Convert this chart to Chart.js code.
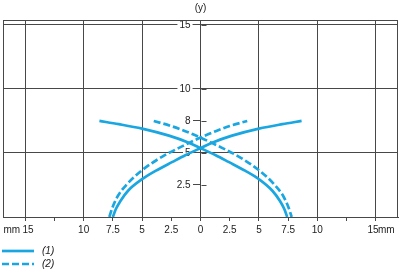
<!DOCTYPE html>
<html>
<head>
<meta charset="utf-8">
<script src="https://cdn.jsdelivr.net/npm/chart.js@4/dist/chart.umd.min.js"></script>
<style>
  html, body { margin: 0; padding: 0; background: #fff; }
</style>
</head>
<body>
<canvas id="lineChart" width="401" height="274"></canvas>
<script>
// curve (1), solid: branch falling to the right and branch rising to the right
var c1FallX = [-8.65, -7.0, -5.0, -2.7, -1.0, 0, 1.3, 2.4, 3.85, 5.0, 6.15, 6.8, 7.18, 7.42];
var c1FallY = [7.5, 7.25, 6.9, 6.35, 5.8, 5.38, 4.82, 4.3, 3.6, 2.95, 2.05, 1.25, 0.6, 0];
var c1RiseX = [-7.5, -7.25, -6.85, -6.2, -5.0, -3.85, -2.4, -1.3, 0, 1.0, 2.7, 5.0, 7.0, 8.65];
var c1RiseY = [0, 0.6, 1.25, 2.05, 2.95, 3.6, 4.3, 4.82, 5.38, 5.8, 6.35, 6.9, 7.25, 7.5];

// curve (2), dashed
var c2FallX = [-4.0, -2.5, -1.3, 0, 1.5, 3.3, 5.0, 6.3, 7.1, 7.55, 7.8];
var c2FallY = [7.5, 7.1, 6.7, 6.2, 5.55, 4.7, 3.65, 2.55, 1.6, 0.7, 0];
var c2RiseX = [-7.8, -7.55, -7.1, -6.3, -5.0, -3.3, -1.5, 0, 1.3, 2.5, 4.0];
var c2RiseY = [0, 0.7, 1.6, 2.55, 3.65, 4.7, 5.55, 6.2, 6.7, 7.1, 7.5];

var legendLabels = ['(1)', '(2)'];

var xTickValues = [-16.15, -15, -12.5, -10, -7.5, -5, -2.5, 0, 2.5, 5, 7.5, 10, 12.5, 15, 15.9];
var xTickLabels = ['mm', '  15', '', '10', '7.5', '5', '2.5', '0', '2.5', '5', '7.5', '10', '', '15  ', 'mm'];
var xGridValues = [-15, -10, -5, 5, 10, 15];

var yTickValues = [2.5, 5, 7.5, 10, 15];
var yTickLabels = ['2.5', '5', '8', '10', '15'];
var yGridValues = [5, 10, 15];

var blue = '#1aa7e1';
var gridColor = '#484848';
var textColor = '#222';
var clear = 'rgba(0,0,0,0)';

Chart.defaults.font.family = '"Liberation Sans", Arial, sans-serif';
Chart.defaults.font.size = 10;
Chart.defaults.color = textColor;

function toPoints(xs, ys) {
    return xs.map(function (x, i) { return { x: x, y: ys[i] }; });
}

function setYTicks(axis) {
    axis.ticks = yTickValues.map(function (v) { return { value: v }; });
}

var framePlugin = {
    id: 'frame',
    beforeDatasetsDraw: function (chart) {
        var a = chart.chartArea, c = chart.ctx;
        var cx = Math.round(chart.scales.x.getPixelForValue(0)) + 0.5;
        c.save();
        c.strokeStyle = gridColor;
        c.lineWidth = 1;
        c.strokeRect(Math.round(a.left) + 0.5, Math.round(a.top) + 0.5,
            Math.round(a.right - a.left) - 1, Math.round(a.bottom - a.top));
        // short ticks continue a little to the right of the centre axis
        yTickValues.forEach(function (v) {
            var py = Math.round(chart.scales.y.getPixelForValue(v)) + 0.5;
            c.beginPath();
            c.moveTo(cx, py);
            c.lineTo(cx + 5, py);
            c.stroke();
        });
        c.restore();
    },
    afterDraw: function (chart) {
        var c = chart.ctx;
        c.save();
        legendLabels.forEach(function (text, i) {
            var ds = chart.data.datasets[i * 2];
            var y = 251 + i * 13;
            c.strokeStyle = ds.borderColor;
            c.lineWidth = ds.borderWidth;
            c.setLineDash(ds.borderDash || []);
            c.beginPath();
            c.moveTo(2, y);
            c.lineTo(34, y);
            c.stroke();
            c.setLineDash([]);
            c.fillStyle = textColor;
            c.font = 'italic 10px "Liberation Sans", Arial, sans-serif';
            c.textBaseline = 'middle';
            c.fillText(text, 42, y);
        });
        c.restore();
    }
};

var lineStyle = { borderColor: blue, borderWidth: 2.7, showLine: true, cubicInterpolationMode: 'monotone', pointRadius: 0 };

var ctx = document.getElementById('lineChart').getContext('2d');
var myChart = new Chart(ctx, {
    type: 'scatter',
    data: {
        datasets: [
            Object.assign({ label: legendLabels[0], data: toPoints(c1FallX, c1FallY) }, lineStyle),
            Object.assign({ label: legendLabels[0], data: toPoints(c1RiseX, c1RiseY) }, lineStyle),
            Object.assign({ label: legendLabels[1], data: toPoints(c2FallX, c2FallY), borderDash: [7, 3] }, lineStyle),
            Object.assign({ label: legendLabels[1], data: toPoints(c2RiseX, c2RiseY), borderDash: [7, 3] }, lineStyle)
        ]
    },
    options: {
        responsive: false,
        animation: false,
        layout: { padding: { left: 3, right: 3, top: 0, bottom: 35 } },
        plugins: {
            legend: { display: false },
            tooltip: { enabled: false },
            title: {
                display: true,
                text: '(y)',
                color: textColor,
                font: { size: 10, weight: 'normal' },
                padding: { top: 2, bottom: 6 }
            }
        },
        scales: {
            x: {
                type: 'linear',
                min: -16.9,
                max: 16.9,
                afterBuildTicks: function (axis) {
                    axis.ticks = xTickValues.map(function (v) { return { value: v }; });
                },
                ticks: {
                    autoSkip: false,
                    maxRotation: 0,
                    padding: 3,
                    callback: function (value, index) { return xTickLabels[index]; }
                },
                grid: {
                    tickLength: 4,
                    color: function (c) {
                        return c.tick && xGridValues.indexOf(c.tick.value) >= 0 ? gridColor : clear;
                    },
                    tickColor: function (c) {
                        return c.tick && Math.abs(c.tick.value) > 15.5 ? clear : gridColor;
                    }
                },
                border: { color: gridColor }
            },
            y: {
                type: 'linear',
                position: { x: 0 },
                min: 0,
                max: 15.38,
                afterBuildTicks: setYTicks,
                ticks: { display: false },
                grid: {
                    tickLength: 7,
                    color: function (c) {
                        return c.tick && yGridValues.indexOf(c.tick.value) >= 0 ? gridColor : clear;
                    },
                    tickColor: gridColor
                },
                border: { color: gridColor }
            },
            // carries the y labels, just left of the centre axis
            yLabels: {
                type: 'linear',
                axis: 'y',
                position: { x: -0.85 },
                min: 0,
                max: 15.38,
                afterBuildTicks: setYTicks,
                ticks: {
                    showLabelBackdrop: true,
                    backdropColor: '#fff',
                    backdropPadding: 2,
                    callback: function (value, index) { return yTickLabels[index]; }
                },
                grid: { display: false },
                border: { display: false }
            }
        }
    },
    plugins: [framePlugin]
});
</script>
</body>
</html>
